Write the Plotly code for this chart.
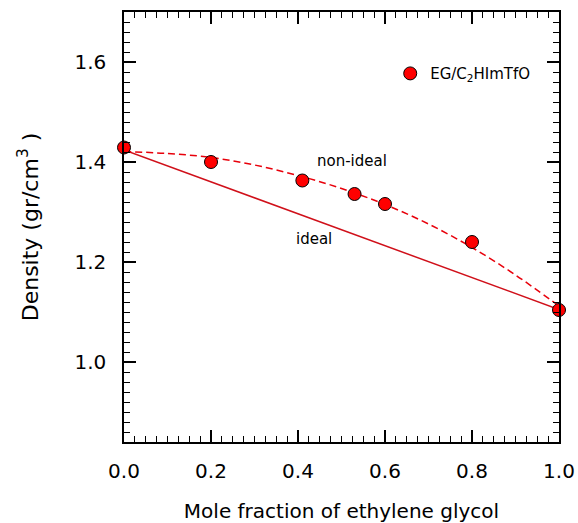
import plotly.graph_objects as go

# Measured densities of EG / C2HImTfO mixtures
mole_fraction = [0.0, 0.2, 0.41, 0.53, 0.60, 0.80, 1.0]
density = [1.429, 1.400, 1.363, 1.336, 1.316, 1.240, 1.104]

# Ideal-mixing line (end points)
ideal_x = [0.0, 1.0]
ideal_y = [1.424, 1.105]

# Fitted non-ideal curve
fit_x = [0.0, 0.1, 0.2, 0.3, 0.4, 0.5, 0.6, 0.7, 0.8, 0.9, 1.0]
fit_y = [1.421, 1.417, 1.409, 1.394, 1.373, 1.347, 1.315, 1.276, 1.229, 1.174, 1.112]

x_ticks = [0.0, 0.2, 0.4, 0.6, 0.8, 1.0]
y_ticks = [1.0, 1.2, 1.4, 1.6]

FONT = "DejaVu Sans"
RED = "#e8000b"

fig = go.Figure()

fig.add_trace(go.Scatter(
    x=ideal_x, y=ideal_y, mode="lines",
    line=dict(color="#d0101a", width=1.5),
    showlegend=False, hoverinfo="skip", cliponaxis=False,
))
fig.add_trace(go.Scatter(
    x=fit_x, y=fit_y, mode="lines",
    line=dict(color=RED, width=1.5, dash="7px,4px", shape="spline"),
    showlegend=False, hoverinfo="skip", cliponaxis=False,
))
fig.add_trace(go.Scatter(
    x=mole_fraction, y=density, mode="markers",
    name="EG/C<sub>2</sub>HImTfO",
    marker=dict(size=13, color="#ff0000", line=dict(color="black", width=1)),
    cliponaxis=False,
))

fig.add_annotation(x=0.525, y=1.402, text="non-ideal", showarrow=False,
                   font=dict(family=FONT, size=15, color="black"))
fig.add_annotation(x=0.436, y=1.246, text="ideal", showarrow=False,
                   font=dict(family=FONT, size=15, color="black"))

axis_common = dict(
    showgrid=False, zeroline=False, showline=True, automargin=False,
    linecolor="black", linewidth=1.5, mirror="allticks",
    ticks="inside", ticklen=12, tickwidth=1.5, tickcolor="black",
    tickfont=dict(family=FONT, size=20, color="black"),
)

fig.update_xaxes(
    range=[0.0, 1.0], tickvals=x_ticks,
    ticktext=[f"{v:.1f}" for v in x_ticks],
    minor=dict(dtick=0.025, ticks="inside", ticklen=6, tickwidth=1.2, tickcolor="black"),
    ticklabelstandoff=10,
    title=dict(text="Mole fraction of ethylene glycol",
               font=dict(family=FONT, size=20, color="black"), standoff=27),
    **axis_common,
)
fig.update_yaxes(
    range=[0.84, 1.7], tickvals=y_ticks,
    ticktext=[f"{v:.1f}" for v in y_ticks],
    minor=dict(dtick=0.02, tick0=0.0, ticks="inside", ticklen=6, tickwidth=1.2, tickcolor="black"),
    ticklabelstandoff=12,
    title=dict(text="Density (gr/cm<sup>3</sup> )",
               font=dict(family=FONT, size=22, color="black"), standoff=30),
    **axis_common,
)

fig.update_layout(
    width=578, height=523,
    margin=dict(l=124, r=19, t=12, b=81),
    paper_bgcolor="white", plot_bgcolor="white",
    legend=dict(x=0.612, y=0.895, xanchor="left", yanchor="top",
                bgcolor="rgba(0,0,0,0)", borderwidth=0,
                font=dict(family=FONT, size=15, color="black"),
                itemwidth=30),
)

fig.write_html("out.html")
